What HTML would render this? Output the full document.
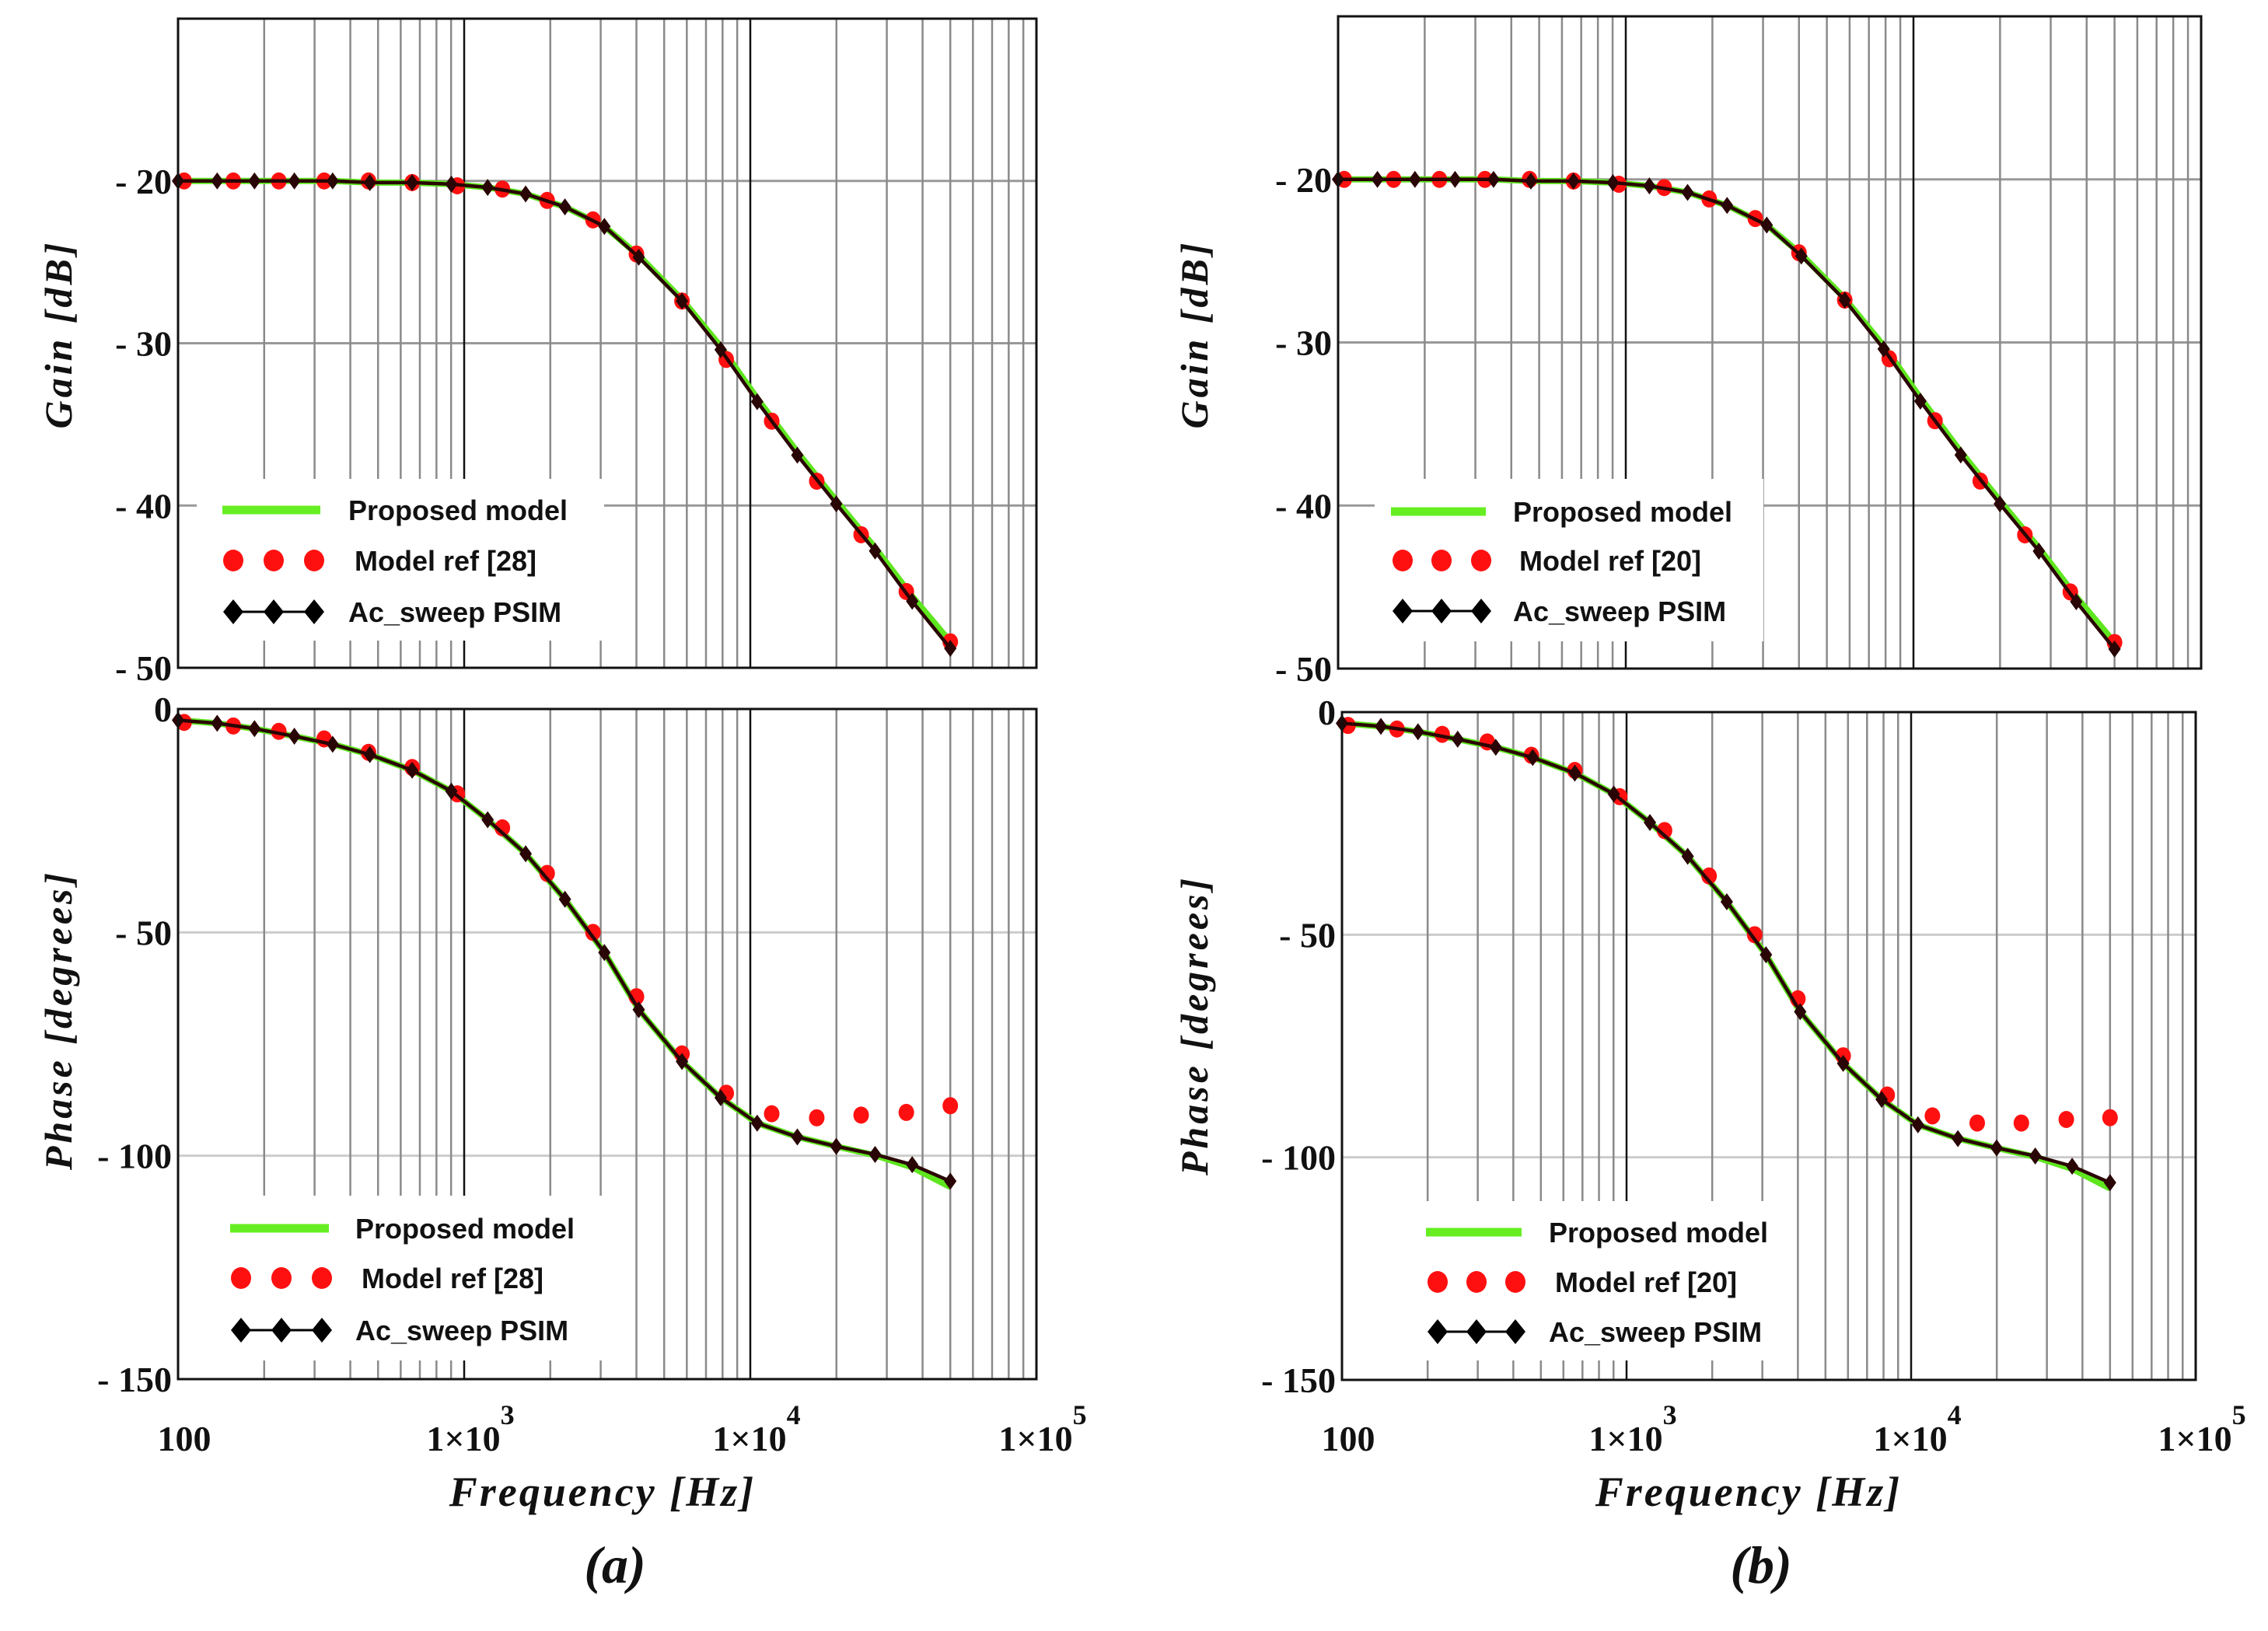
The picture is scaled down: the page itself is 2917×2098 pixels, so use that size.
<!DOCTYPE html>
<html><head><meta charset="utf-8"><style>
html,body{margin:0;padding:0;background:#fff}
svg{display:block}
.tick{font-family:"Liberation Serif",serif;font-size:46px;font-weight:bold;fill:#111}
.axt{font-family:"Liberation Serif",serif;font-style:italic;font-weight:bold;font-size:50px;fill:#111}
.leg{font-family:"Liberation Sans",sans-serif;font-weight:bold;font-size:36px;fill:#111}
</style></head><body>
<svg id="fig" width="2917" height="2098" viewBox="0 0 2917 2098" xmlns="http://www.w3.org/2000/svg"></svg>
<script>
// ---- data ----
const freqPsim = [100,137,185,255,347,468,658,902,1208,1640,2250,3090,4075,5770,7880,10570,14600,19970,27300,36800,50000];
const freqRef  = [105,156,225,324,463,658,946,1360,1950,2820,4000,5770,8240,11880,17070,24400,35100,50000];
const gainPsimA = [-20,-20,-20,-20,-20,-20.1,-20.1,-20.2,-20.4,-20.8,-21.6,-22.8,-24.7,-27.4,-30.4,-33.6,-36.9,-39.9,-42.8,-45.9,-48.8];
const gainPropA = [-20,-20,-20,-20,-20,-20.1,-20.1,-20.2,-20.4,-20.8,-21.6,-22.8,-24.6,-27.3,-30.2,-33.4,-36.7,-39.7,-42.6,-45.6,-48.4];
const gainRefA  = [-20,-20,-20,-20,-20,-20.1,-20.3,-20.5,-21.2,-22.4,-24.5,-27.4,-31,-34.8,-38.5,-41.8,-45.3,-48.4];
const phPsimA = [-2.5,-3.2,-4.4,-6.1,-7.9,-10.2,-13.7,-18.4,-24.8,-32.4,-42.6,-54.5,-67.3,-78.9,-87,-92.7,-95.8,-97.9,-99.7,-102,-105.7];
const phPropA = [-2.5,-3.2,-4.4,-6.1,-7.9,-10.2,-13.7,-18.4,-24.8,-32.4,-42.6,-54.5,-67.3,-78.9,-87,-92.7,-95.8,-97.9,-99.9,-102.6,-107];
const phRefA  = [-3,-3.8,-5,-6.7,-9.7,-13.1,-19,-26.6,-36.8,-50,-64.4,-77.2,-86,-90.6,-91.5,-90.9,-90.3,-88.8];
const gainPsimB = gainPsimA.slice();
const gainPropB = gainPropA.slice();
const gainRefB  = [-20,-20,-20,-20,-20,-20.1,-20.3,-20.5,-21.2,-22.4,-24.5,-27.4,-31,-34.8,-38.5,-41.8,-45.3,-48.4];
const phPsimB = phPsimA.slice();
const phPropB = phPropA.slice();
const phRefB  = [-3,-3.8,-5,-6.7,-9.7,-13.1,-19,-26.6,-36.8,-50,-64.4,-77.2,-86,-90.7,-92.3,-92.3,-91.5,-91.1];
const gainTicks = [-20,-30,-40,-50];
const phaseTicks = [0,-50,-100,-150];
const decadeLabels = [["100",""],["1×10","3"],["1×10","4"],["1×10","5"]];

const NS="http://www.w3.org/2000/svg";
const svg=document.getElementById('fig');
function mk(tag,attrs,parent){const e=document.createElementNS(NS,tag);for(const k in attrs)e.setAttribute(k,attrs[k]);(parent||svg).appendChild(e);return e;}

function panel(cfg){
  const g=mk('g',{});
  
  
  const sx=f=>cfg.x0+(Math.log10(f)-2)*(cfg.x1-cfg.x0)/3;
  const sy=v=>cfg.yTop+(cfg.vTop-v)*(cfg.yBot-cfg.yTop)/(cfg.vTop-cfg.vBot);
  cfg.ticks.forEach(t=>{
    const l=mk('line',{x1:cfg.x0,x2:cfg.x1,y1:sy(t),y2:sy(t),stroke:cfg.hcol,'stroke-width':3},g);
    
    
  });
  for(let d=0;d<3;d++){for(let m=1;m<=9;m++){
    const f=Math.pow(10,2+d)*m; if(m===1&&d===0)continue;
    const l=mk('line',{x1:sx(f),x2:sx(f),y1:cfg.yTop,y2:cfg.yBot,stroke:m===1?'#111':'#8a8a8a','stroke-width':2.5},g);
    
    
  }}
  const L=cfg.leg;
  const lb=mk('rect',{x:L.x,y:L.y,width:L.w,height:L.h,fill:'#fff'},g);
  
  
  cfg.ticks.forEach(t=>{
    const tx=mk('text',{x:cfg.x0-8,y:sy(t)+16,'text-anchor':'end',class:'tick'},g);
    tx.textContent=t===0?'0':'- '+Math.abs(t);
    
    
  });
  const pp=cfg.prop.map((v,i)=>sx(cfg.fp[i])+','+sy(v)).join(' ');
  const gl=mk('polyline',{points:pp,fill:'none',stroke:'#5ee61e','stroke-width':8,'stroke-linejoin':'round'},g);
  
  
  cfg.ref.forEach((v,i)=>{
    const c=mk('ellipse',{cx:sx(cfg.fr[i]),cy:sy(v),rx:10,ry:11,fill:'#ff1010'},g);
    
    
  });
  const pk=cfg.psim.map((v,i)=>sx(cfg.fp[i])+','+sy(v)).join(' ');
  const bl=mk('polyline',{points:pk,fill:'none',stroke:'#2a0505','stroke-width':4.5,'stroke-linejoin':'round'},g);
  
  
  cfg.psim.forEach((v,i)=>{
    const x=sx(cfg.fp[i]),y=sy(v);
    const d=mk('polygon',{points:`${x},${y-11} ${x+8},${y} ${x},${y+11} ${x-8},${y}`,fill:'#2a0505'},g);
    
    
  });
  const fr=mk('rect',{x:cfg.x0,y:cfg.yTop,width:cfg.x1-cfg.x0,height:cfg.yBot-cfg.yTop,fill:'none',stroke:'#111','stroke-width':3},g);
  
  
  const ln=mk('line',{x1:L.gx1,x2:L.gx2,y1:L.r1,y2:L.r1,stroke:'#66ee22','stroke-width':11},g);
  
  
  const t1=mk('text',{x:L.tx,y:L.r1+13,class:'leg'},g); t1.textContent='Proposed model';
  
  
  L.dx.forEach(x=>{const c=mk('ellipse',{cx:x,cy:L.r2,rx:13,ry:14,fill:'#ff1010'},g);
    
    });
  const t2=mk('text',{x:L.tx+8,y:L.r2+13,class:'leg'},g); t2.textContent=cfg.refName;
  
  
  const dl=mk('line',{x1:L.dx[0],x2:L.dx[2],y1:L.r3,y2:L.r3,stroke:'#000','stroke-width':3},g);
  
  
  L.dx.forEach(x=>{const d=mk('polygon',{points:`${x},${L.r3-16} ${x+13},${L.r3} ${x},${L.r3+16} ${x-13},${L.r3}`,fill:'#000'},g);
    
    });
  const t3=mk('text',{x:L.tx,y:L.r3+13,class:'leg'},g); t3.textContent='Ac_sweep PSIM';
  
  
  const at=mk('text',{x:cfg.titleX,y:cfg.titleY,'text-anchor':'middle',class:'axt','letter-spacing':'4',transform:`rotate(-90 ${cfg.titleX} ${cfg.titleY})`},g);
  at.textContent=cfg.title;
  
  
  return sx;
}

function column(c){
  panel({name:'gain-plot-'+c.id,x0:c.gx0,x1:c.gx1,yTop:c.gTop,yBot:c.gBot,vTop:-10,vBot:-50,ticks:gainTicks,hcol:'#999',
    fp:freqPsim,fr:freqRef,prop:c.gProp,psim:c.gPsim,ref:c.gRef,refName:c.refName,leg:c.gLeg,
    title:'Gain [dB]',titleName:'gain-axis-title',titleX:c.titleX,titleY:c.gTitleY});
  const sx=panel({name:'phase-plot-'+c.id,x0:c.px0,x1:c.px1,yTop:c.pTop,yBot:c.pBot,vTop:0,vBot:-150,ticks:phaseTicks,hcol:'#ccc',
    fp:freqPsim,fr:freqRef,prop:c.pProp,psim:c.pPsim,ref:c.pRef,refName:c.refName,leg:c.pLeg,
    title:'Phase [degrees]',titleName:'phase-axis-title',titleX:c.titleX,titleY:c.pTitleY});
  decadeLabels.forEach((lab,i)=>{
    const x=sx(Math.pow(10,2+i))+8;
    const t=mk('text',{x:x,y:1866,'text-anchor':'middle',class:'tick'});
    
    
    t.textContent=lab[0];
    if(lab[1]){const s=mk('tspan',{dy:-34,style:'font-size:36px'},t);s.textContent=lab[1];}
  });
  const xt=mk('text',{x:c.fx,y:1937,'text-anchor':'middle',class:'axt','letter-spacing':'3',style:'font-size:54px'});
  xt.textContent='Frequency [Hz]';
  
  
  const cap=mk('text',{x:c.fx+16,y:2036,'text-anchor':'middle',class:'axt',style:'font-size:68px'});
  cap.textContent=c.cap;
  
  
}

column({id:'a',gx0:229,gx1:1333,gTop:24,gBot:859,px0:229,px1:1333,pTop:912,pBot:1774,
  gProp:gainPropA,gPsim:gainPsimA,gRef:gainRefA,pProp:phPropA,pPsim:phPsimA,pRef:phRefA,refName:'Model ref [28]',
  gLeg:{x:253,y:616,w:524,h:208,gx1:286,gx2:412,tx:448,r1:656,r2:721,r3:787,dx:[300,352,404]},
  pLeg:{x:272,y:1538,w:514,h:212,gx1:296,gx2:423,tx:457,r1:1580,r2:1644,r3:1711,dx:[310,362,414]},
  titleX:92,gTitleY:430,pTitleY:1312,fx:775,cap:'(a)'});
column({id:'b',gx0:1721,gx1:2831,gTop:21,gBot:860,px0:1726,px1:2824,pTop:916,pBot:1775,
  gProp:gainPropB,gPsim:gainPsimB,gRef:gainRefB,pProp:phPropB,pPsim:phPsimB,pRef:phRefB,refName:'Model ref [20]',
  gLeg:{x:1768,y:616,w:500,h:209,gx1:1789,gx2:1911,tx:1946,r1:658,r2:721,r3:786,dx:[1804,1854,1905]},
  pLeg:{x:1815,y:1545,w:495,h:205,gx1:1834,gx2:1957,tx:1992,r1:1585,r2:1649,r3:1713,dx:[1849,1899,1949]},
  titleX:1553,gTitleY:430,pTitleY:1319,fx:2249,cap:'(b)'});
</script>
</body></html>
